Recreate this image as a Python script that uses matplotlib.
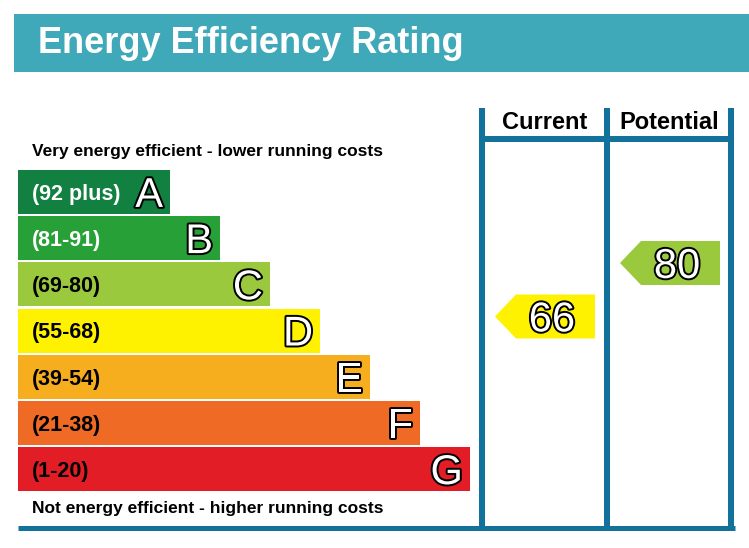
import matplotlib
matplotlib.use("Agg")
import matplotlib.pyplot as plt
from matplotlib.patches import Rectangle, Polygon
import matplotlib.patheffects as pe

# ---- data ----
letters = ["A", "B", "C", "D", "E", "F", "G"]
ranges = ["(92 plus)", "(81-91)", "(69-80)", "(55-68)", "(39-54)", "(21-38)", "(1-20)"]
colors = ["#128041", "#27A137", "#9BC93D", "#FFF200", "#F6AE1E", "#EE6A25", "#E31D26"]
label_colors = ["white", "white", "black", "black", "black", "black", "black"]
current_value = 66
potential_value = 80
current_color = "#FFF200"
potential_color = "#9BC93D"
title = "Energy Efficiency Rating"
top_text = "Very energy efficient - lower running costs"
bottom_text = "Not energy efficient - higher running costs"
headers = ["Current", "Potential"]

FONT = "Liberation Sans"
W, H = 749, 548
fig = plt.figure(figsize=(W / 100, H / 100), dpi=100)
ax = fig.add_axes([0, 0, 1, 1])
ax.set_xlim(0, W)
ax.set_ylim(H, 0)
ax.axis("off")

LINE = "#13729B"
TEAL = "#3FA8B9"
CAP = 0.716
px = lambda pt: pt * 100 / 72

# title band
ax.add_patch(Rectangle((14, 14), W - 14, 58, color=TEAL, lw=0))
ax.text(38, 53, title, color="white", fontsize=26, fontweight="bold",
        family=FONT, va="baseline", ha="left")

outline = [pe.withStroke(linewidth=2.8, foreground="black")]

# bands
top0, bh, step = 170, 44, 46.2
for i, (L, r, c, lc) in enumerate(zip(letters, ranges, colors, label_colors)):
    y0 = top0 + i * step
    right = 170 + 50 * i
    ax.add_patch(Rectangle((18, y0), right - 18, bh, color=c, lw=0))
    yc = y0 + bh / 2
    ax.text(32, yc + px(15.5) * CAP / 2, r, color=lc, fontsize=15.5,
            fontweight="bold", family=FONT, va="baseline", ha="left")
    ax.text(right - 7, yc + px(30) * CAP / 2, L, color="white", fontsize=30,
            family=FONT, va="baseline", ha="right", path_effects=outline)

ax.text(32, 150 + px(12.5) * CAP / 2, top_text, fontsize=12.5, fontweight="bold",
        family=FONT, va="baseline", ha="left", color="black")
ax.text(32, 507 + px(12.5) * CAP / 2, bottom_text, fontsize=12.5, fontweight="bold",
        family=FONT, va="baseline", ha="left", color="black")

# columns frame
lw = 6 * 72 / 100
xs = [482, 607, 731]
for x in xs:
    ax.plot([x, x], [108, 528], color=LINE, lw=lw, solid_capstyle="butt")
ax.plot([xs[0] - 3, xs[2] + 3], [139, 139], color=LINE, lw=lw, solid_capstyle="butt")
ax.plot([18, 735], [528, 528], color=LINE, lw=5 * 72 / 100, solid_capstyle="butt")
for h, xa, xb in zip(headers, xs[:-1], xs[1:]):
    ax.text((xa + xb) / 2, 129, h, fontsize=17, fontweight="bold", family=FONT,
            ha="center", va="baseline", color="black")


def yscale(v):
    return 568.6 - 3.82 * v


def arrow(v, color, tip_x, right_x):
    yc = yscale(v)
    h2 = 22
    pts = [(tip_x, yc), (tip_x + 21, yc - h2), (right_x, yc - h2),
           (right_x, yc + h2), (tip_x + 21, yc + h2)]
    ax.add_patch(Polygon(pts, closed=True, color=color, lw=0))
    ax.text(tip_x + 57, yc + px(30) * CAP / 2, str(v), fontsize=30, color="white",
            family=FONT, ha="center", va="baseline", path_effects=outline)


arrow(current_value, current_color, 495, 595)
arrow(potential_value, potential_color, 620, 720)

fig.savefig("out.png", dpi=100)
